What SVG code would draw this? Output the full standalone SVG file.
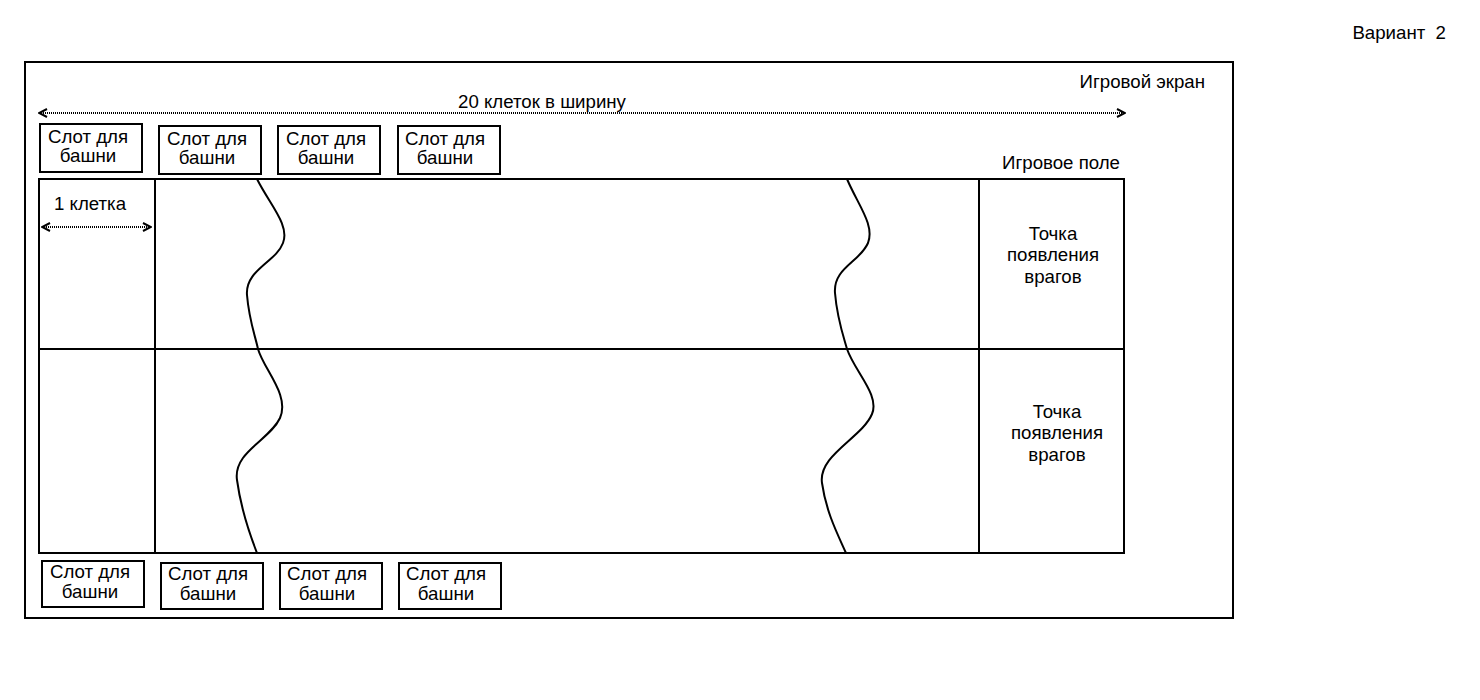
<svg xmlns="http://www.w3.org/2000/svg" width="1480" height="700" viewBox="0 0 1480 700">
<defs>
<style>
text{font-family:"Liberation Sans",Arial,sans-serif;font-size:18.67px;fill:#000}
.c{text-anchor:middle}
.r{text-anchor:end}
.box{fill:#fff;stroke:#000;stroke-width:2}
.ln{fill:none;stroke:#000;stroke-width:2}
.dot{fill:none;stroke:#000;stroke-width:2;stroke-dasharray:1 1}
.crv{fill:none;stroke:#000;stroke-width:2}
</style>
<marker id="ah" viewBox="0 0 10 10" refX="9" refY="5" markerWidth="10" markerHeight="10" markerUnits="userSpaceOnUse" orient="auto-start-reverse">
<path d="M1,1 L9,5 L1,9" fill="none" stroke="#000" stroke-width="2"/>
</marker>
</defs>
<rect width="1480" height="700" fill="#fff"/>
<text x="1446" y="39" class="r" xml:space="preserve">Вариант  2</text>
<g id="screen">
<rect x="25" y="62" width="1208" height="556" class="box"/>
<text x="1205" y="88" class="r">Игровой экран</text>
</g>
<g id="field">
<rect x="39" y="179" width="1085" height="374" class="box"/>
<line x1="155" y1="179" x2="155" y2="553" class="ln"/>
<line x1="979" y1="179" x2="979" y2="553" class="ln"/>
<line x1="39" y1="349" x2="1124" y2="349" class="ln"/>
<text x="1120" y="169" class="r">Игровое поле</text>
</g>
<g id="paths">
<path class="crv" d="M257,179 C270,205 290,225 283,243 C276,262 245,270 247,295 C249,320 255,335 258,349 C264,370 290,395 280,418 C270,440 233,452 237,480 C241,510 250,535 257,553"/>
<path class="crv" d="M847,179 C858,205 875,225 868,243 C860,262 833,268 835,293 C837,318 843,335 847,349 C855,372 880,395 872,414 C862,438 818,455 822,483 C826,512 838,535 846,553"/>
</g>
<g id="spawn1"><text x="1053" y="240" class="c">Точка</text><text x="1053" y="261" class="c">появления</text><text x="1053" y="283" class="c">врагов</text></g>
<g id="spawn2"><text x="1057" y="418" class="c">Точка</text><text x="1057" y="439" class="c">появления</text><text x="1057" y="461" class="c">врагов</text></g>
<g id="slot-t1"><rect x="40" y="124" width="102" height="48" class="box"/><text x="88" y="143" class="c">Слот для</text><text x="88" y="162" class="c">башни</text></g>
<g id="slot-t2"><rect x="159" y="126" width="102" height="48" class="box"/><text x="207" y="145" class="c">Слот для</text><text x="207" y="164" class="c">башни</text></g>
<g id="slot-t3"><rect x="278" y="126" width="102" height="48" class="box"/><text x="326" y="145" class="c">Слот для</text><text x="326" y="164" class="c">башни</text></g>
<g id="slot-t4"><rect x="398" y="126" width="102" height="48" class="box"/><text x="445" y="145" class="c">Слот для</text><text x="445" y="164" class="c">башни</text></g>
<g id="slot-b1"><rect x="42" y="561" width="102" height="46" class="box"/><text x="90" y="578" class="c">Слот для</text><text x="90" y="598" class="c">башни</text></g>
<g id="slot-b2"><rect x="161" y="563" width="102" height="46" class="box"/><text x="208" y="580" class="c">Слот для</text><text x="208" y="600" class="c">башни</text></g>
<g id="slot-b3"><rect x="280" y="563" width="102" height="46" class="box"/><text x="327" y="580" class="c">Слот для</text><text x="327" y="600" class="c">башни</text></g>
<g id="slot-b4"><rect x="399" y="563" width="102" height="46" class="box"/><text x="446" y="580" class="c">Слот для</text><text x="446" y="600" class="c">башни</text></g>
<g id="connectors">
<line x1="39" y1="113" x2="1125" y2="113" class="dot" marker-start="url(#ah)" marker-end="url(#ah)"/>
<text x="542" y="108" class="c">20 клеток в ширину</text>
<line x1="42" y1="227" x2="151" y2="227" class="dot" marker-start="url(#ah)" marker-end="url(#ah)"/>
<text x="90" y="210" class="c">1 клетка</text>
</g>
</svg>
